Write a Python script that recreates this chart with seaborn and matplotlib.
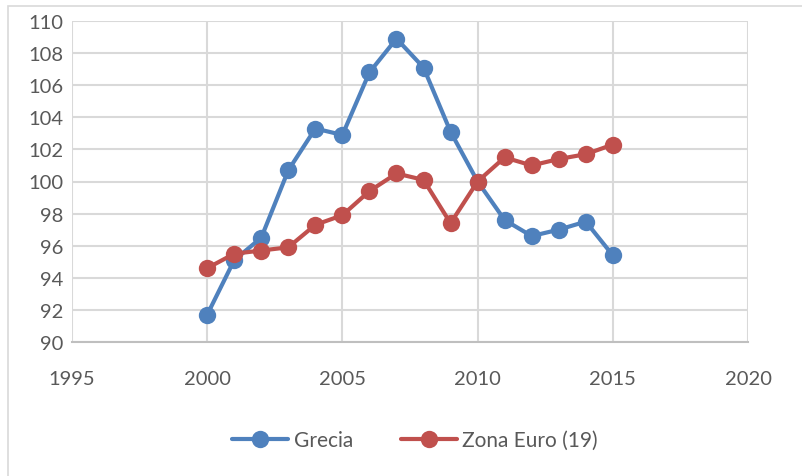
import matplotlib
matplotlib.use("Agg")
import matplotlib.pyplot as plt
import seaborn as sns
import pandas as pd
from matplotlib.lines import Line2D
from matplotlib.patches import Rectangle

years = list(range(2000, 2016))
grecia = [91.7, 95.1, 96.5, 100.7, 103.3, 102.9, 106.8, 108.9, 107.1, 103.1, 100.0, 97.6, 96.6, 97.0, 97.5, 95.4]
zona_euro = [94.6, 95.5, 95.7, 95.9, 97.3, 97.9, 99.4, 100.5, 100.1, 97.4, 100.0, 101.5, 101.0, 101.4, 101.7, 102.3]
series_names = ["Grecia", "Zona Euro (19)"]
colors = ["#4F81BD", "#C0504D"]
x_ticks = [1995, 2000, 2005, 2010, 2015, 2020]
y_ticks = list(range(90, 111, 2))

df = pd.DataFrame({
    "year": years * 2,
    "value": grecia + zona_euro,
    "serie": [series_names[0]] * len(years) + [series_names[1]] * len(years),
})

sns.set_theme(style="white")
plt.rcParams['font.family'] = ['Lato', 'DejaVu Sans']

fig = plt.figure(figsize=(8.03, 4.77), dpi=100)
ax = fig.add_axes([72/803, 1-343/477, (748-72)/803, (343-22)/477])

sns.lineplot(data=df, x="year", y="value", hue="serie", palette=colors,
             marker="o", markersize=12.5, linewidth=3, markeredgewidth=0,
             ax=ax, legend=False)

ax.set_xlim(1995, 2020)
ax.set_ylim(90, 110)
ax.set_xticks(x_ticks)
ax.set_yticks(y_ticks)
ax.set_xlabel("")
ax.set_ylabel("")
ax.grid(True, color="#D9D9D9", linewidth=1.5)
ax.set_axisbelow(True)
for s in ["top", "right", "left"]:
    ax.spines[s].set_visible(False)
ax.spines["bottom"].set_color("#BFBFBF")
ax.spines["bottom"].set_linewidth(1.5)
ax.tick_params(axis="both", length=0, labelsize=14.5, colors="#595959")
ax.tick_params(axis="x", pad=20)
ax.tick_params(axis="y", pad=6)

handles = [Line2D([0], [0], color=c, linewidth=3, marker="o", markersize=12.5, markeredgewidth=0)
           for c in colors]
fig.legend(handles, series_names, loc="center", bbox_to_anchor=(415/803, 1-441/477),
           ncol=2, frameon=False, fontsize=15, handlelength=2.7, columnspacing=2.3,
           handletextpad=0.25, labelcolor="#595959")

fig.patches.append(Rectangle((8/803, -0.1), 1.0, 1.1 - 7/477, transform=fig.transFigure,
                             fill=False, edgecolor="#D9D9D9", linewidth=1.2))

fig.savefig("out.png", dpi=100)
